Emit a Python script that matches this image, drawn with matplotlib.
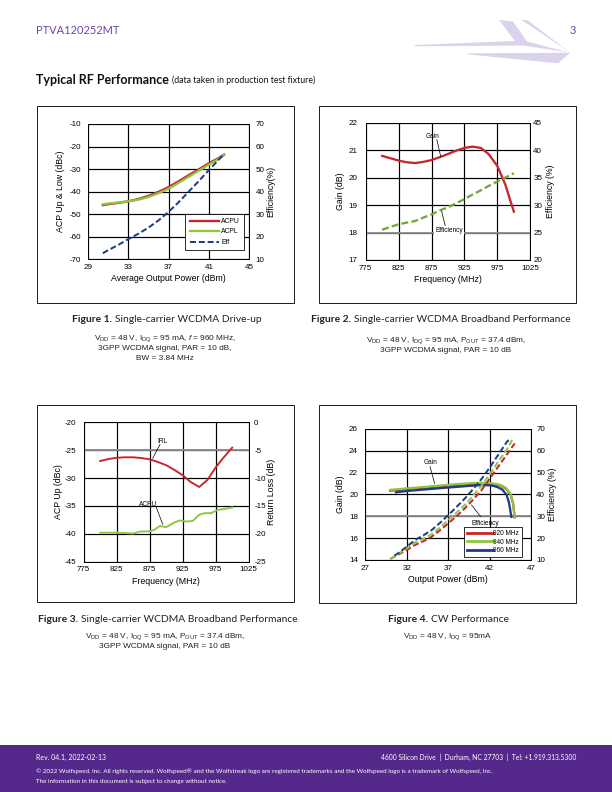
import matplotlib
matplotlib.use("Agg")
import matplotlib.pyplot as plt
from matplotlib.lines import Line2D
from matplotlib.patches import Rectangle, Polygon

plt.rcParams['font.family'] = ['Liberation Sans', 'DejaVu Sans']
plt.rcParams['mathtext.fontset'] = 'custom'
plt.rcParams['mathtext.rm'] = 'Liberation Sans'
plt.rcParams['mathtext.it'] = 'Liberation Sans:italic'
plt.rcParams['axes.unicode_minus'] = False

RED = '#C9252C'
GREEN = '#8DC63F'
DKGREEN = '#78A634'
BLUE = '#1F3C88'
PURPLE = '#55288C'
DASH = (3.0, 1.4)

# Figure 1: drive-up
pout1 = [30.5, 31, 32, 33, 34, 35, 36, 37, 38, 39, 40, 41, 42, 42.5]
acpu1 = [-46.0, -45.6, -45.0, -44.3, -43.3, -41.9, -40.1, -38.0, -35.4, -32.7, -30.1, -27.4, -25.0, -23.6]
acpl1 = [-45.6, -45.3, -44.8, -44.3, -43.6, -42.4, -40.7, -38.7, -36.1, -33.4, -30.7, -28.0, -25.4, -23.8]
eff1 = [12.7, 14.0, 16.3, 18.9, 21.3, 24.0, 27.2, 31.0, 35.3, 40.0, 44.7, 49.6, 54.3, 56.6]

# Figure 2: broadband gain / efficiency
freq2 = [800, 812, 825, 837, 850, 862, 875, 887, 900, 912, 925, 937, 950, 962, 975, 987, 1000]
gain2 = [20.79, 20.71, 20.62, 20.56, 20.53, 20.57, 20.64, 20.74, 20.86, 20.98, 21.08, 21.13, 21.08, 20.85, 20.42, 19.75, 18.76]
eff2 = [25.5, 26.0, 26.5, 26.8, 27.1, 27.7, 28.3, 29.0, 29.6, 30.3, 31.1, 31.9, 32.7, 33.5, 34.3, 35.0, 35.8]

# Figure 3: broadband ACPU / IRL
freq3 = [800, 812, 825, 837, 850, 862, 875, 887, 900, 912, 925, 937, 950, 962, 975, 987, 1000]
irl3 = [-6.94, -6.6, -6.36, -6.28, -6.28, -6.4, -6.64, -7.1, -7.7, -8.5, -9.5, -10.7, -11.6, -10.4, -8.1, -6.3, -4.55]
freq3b = [800, 825, 850, 860, 875, 882, 890, 900, 910, 920, 930, 940, 950, 958, 968, 978, 990, 1000]
acpu3 = [-39.8, -39.8, -39.95, -39.6, -39.55, -39.3, -38.6, -38.8, -38.1, -37.6, -37.8, -37.7, -36.6, -36.3, -36.3, -35.7, -35.5, -35.25]

# Figure 4: CW performance
pg920 = [30, 32, 34, 36, 38, 40, 41, 42, 43, 43.5, 44, 44.5, 44.8, 45.0]
g920 = [20.35, 20.5, 20.62, 20.75, 20.88, 20.97, 21.0, 20.98, 20.88, 20.75, 20.5, 20.0, 19.2, 17.9]
pg940 = [30, 32, 34, 36, 38, 40, 41, 42, 43, 43.5, 44, 44.5, 44.8, 45.0]
g940 = [20.42, 20.56, 20.68, 20.82, 20.95, 21.04, 21.07, 21.04, 20.93, 20.8, 20.55, 20.05, 19.25, 17.95]
pg960 = [30.7, 32, 34, 36, 38, 40, 41, 42, 42.5, 43, 43.5, 44, 44.3, 44.6]
g960 = [20.2, 20.32, 20.45, 20.58, 20.7, 20.82, 20.86, 20.84, 20.78, 20.65, 20.45, 20.0, 19.3, 17.95]
pe920 = [30, 31, 32, 33, 34, 35, 36, 37, 38, 39, 40, 41, 42, 43, 44, 45]
e920 = [10.5, 12.5, 14.6, 16.9, 18.6, 20.7, 23.6, 26.8, 30.1, 33.7, 37.7, 42.0, 47.3, 52.7, 58.0, 63.4]
pe940 = [30, 31, 32, 33, 34, 35, 36, 37, 38, 39, 40, 41, 42, 43, 44, 44.8]
e940 = [10.5, 12.8, 15.3, 18.0, 19.8, 21.8, 24.9, 28.3, 31.7, 35.3, 39.5, 44.0, 49.3, 55.0, 60.3, 65.7]
pe960 = [30.5, 31, 32, 33, 34, 35, 36, 37, 38, 39, 40, 41, 42, 43, 44, 44.5]
e960 = [12.0, 13.2, 16.1, 19.2, 21.3, 23.7, 27.0, 30.6, 34.3, 38.2, 42.5, 47.1, 52.4, 58.1, 63.8, 66.0]

W, H = 612, 792
fig = plt.figure(figsize=(W / 72, H / 72), dpi=72)
bg = fig.add_axes([0, 0, 1, 1])
bg.set_xlim(0, W)
bg.set_ylim(H, 0)
bg.axis('off')


def rect(x0, y0, x1, y1):
    return [x0 / W, 1 - y1 / H, (x1 - x0) / W, (y1 - y0) / H]


def style(ax, ax2, xlim, xticks, ylim, yticks, y2lim, y2ticks, xlabel, ylabel, y2label, pads):
    lpad, rpad, xpad, ylp, y2lp, xlp = pads
    ax.set_xlim(*xlim)
    ax.set_xticks(xticks)
    ax.set_ylim(*ylim)
    ax.set_yticks(yticks)
    ax2.set_ylim(*y2lim)
    ax2.set_yticks(y2ticks)
    ax.grid(True, color='black', lw=1.2)
    ax.set_axisbelow(True)
    for a in (ax, ax2):
        a.tick_params(length=0, labelsize=8)
        for s in a.spines.values():
            s.set_color('black')
            s.set_linewidth(1.0)
    ax.tick_params(axis='y', pad=lpad)
    ax.tick_params(axis='x', pad=xpad)
    ax2.tick_params(axis='y', pad=rpad)
    ax.set_xlabel(xlabel, fontsize=8.7, labelpad=xlp)
    ax.set_ylabel(ylabel, fontsize=8.7, labelpad=ylp)
    ax2.set_ylabel(y2label, fontsize=8.7, labelpad=y2lp)


# frames around the charts
for x0, y0, x1, y1 in [(37, 106, 294, 303), (319, 106, 576, 303), (37, 405, 294, 602), (319, 405, 576, 603)]:
    bg.add_patch(Rectangle((x0, y0), x1 - x0, y1 - y0, fill=False, ec='#222222', lw=1.0))

# ---- Figure 1
ax = fig.add_axes(rect(87.7, 124, 249.3, 259.3))
ax2 = ax.twinx()
style(ax, ax2, (29, 45), [29, 33, 37, 41, 45], (-70, -10), range(-70, -9, 10),
      (10, 70), range(10, 71, 10), 'Average Output Power (dBm)', 'ACP Up & Low (dBc)', 'Efficiency(%)',
      (6.5, 6.5, 4.5, 5, 1.5, 3.5))
ax.plot(pout1, acpu1, color=RED, lw=2.3)
ax.plot(pout1, acpl1, color=GREEN, lw=2.3)
ax2.plot(pout1, eff1, color=BLUE, lw=2.0, dashes=DASH)
hs = [Line2D([], [], color=RED, lw=2.3), Line2D([], [], color=GREEN, lw=2.3),
      Line2D([], [], color=BLUE, lw=2.0, dashes=DASH)]
lg = ax2.legend(hs, ['ACPU', 'ACPL', 'Eff'], loc='lower right', bbox_to_anchor=(0.969, 0.069),
                borderaxespad=0, fontsize=6.8, frameon=True, fancybox=False, edgecolor='black',
                framealpha=1, handlelength=4.4, handletextpad=0.3, borderpad=0.6, labelspacing=0.5)
lg.get_frame().set_linewidth(0.8)

# ---- Figure 2
ax = fig.add_axes(rect(365.7, 122.7, 530.3, 260))
ax2 = ax.twinx()
style(ax, ax2, (775, 1025), range(775, 1026, 50), (17, 22), range(17, 23),
      (20, 45), range(20, 46, 5), 'Frequency (MHz)', 'Gain (dB)', 'Efficiency (%)',
      (8, 3, 4.5, 4, 3.3, 3.5))
ax.axhline(18, color='#8a8a8a', lw=1.8, zorder=1.5)
ax.plot(freq2, gain2, color=RED, lw=2.3)
ax2.plot(freq2, eff2, color=DKGREEN, lw=2.3, dashes=DASH)
ax.text(877, 21.51, 'Gain', fontsize=6.5, ha='center', va='center')
ax.plot([883, 889], [21.39, 20.76], color='black', lw=0.7)
ax.text(901.5, 18.07, 'Efficiency', fontsize=6.5, ha='center', va='center', zorder=5,
        bbox=dict(fc='white', ec='none', pad=1.5))
ax.plot([889.9, 896.5], [18.82, 18.18], color='black', lw=0.7)

# ---- Figure 3
ax = fig.add_axes(rect(83.7, 422.3, 248.7, 561.7))
ax2 = ax.twinx()
style(ax, ax2, (775, 1025), range(775, 1026, 50), (-45, -20), range(-45, -19, 5),
      (-25, 0), range(-25, 1, 5), 'Frequency (MHz)', 'ACP Up (dBc)', 'Return Loss (dB)',
      (7.5, 5.5, 4.5, 2, 0.8, 3.5))
ax.axhline(-25, color='#8a8a8a', lw=1.8, zorder=1.5)
ax2.plot(freq3, irl3, color=RED, lw=1.9)
ax.plot(freq3b, acpu3, color=GREEN, lw=1.9)
ax.text(894.7, -23.47, 'IRL', fontsize=6.5, ha='center', va='center')
ax.plot([890.7, 879.5], [-23.95, -26.46], color='black', lw=0.7)
ax.text(872, -34.7, 'ACPU', fontsize=6.5, ha='center', va='center')
ax.plot([884.6, 894.7], [-35.13, -38.3], color='black', lw=0.7)

# ---- Figure 4
ax = fig.add_axes(rect(365.3, 429, 531.3, 560))
ax2 = ax.twinx()
style(ax, ax2, (27, 47), range(27, 48, 5), (14, 26), range(14, 27, 2),
      (10, 70), range(10, 71, 10), 'Output Power (dBm)', 'Gain (dB)', 'Efficiency (%)',
      (7.3, 5, 4.5, 4.4, 2.8, 3.5))
ax.axhline(18, color='#8a8a8a', lw=1.8, zorder=1.5)
ax.plot(pg920, g920, color=RED, lw=2.3)
ax.plot(pg940, g940, color=GREEN, lw=2.3)
ax.plot(pg960, g960, color=BLUE, lw=2.3)
ax2.plot(pe920, e920, color=RED, lw=2.0, dashes=DASH)
ax2.plot(pe940, e940, color=GREEN, lw=2.0, dashes=DASH)
ax2.plot(pe960, e960, color=BLUE, lw=2.0, dashes=DASH)
ax.text(34.8, 22.95, 'Gain', fontsize=6.5, ha='center', va='center')
ax.plot([34.8, 35.35], [22.55, 21.02], color='black', lw=0.7)
ax.text(41.4, 17.35, 'Efficiency', fontsize=6.5, ha='center', va='center')
ax.plot([40.9, 39.8], [17.97, 19.04], color='black', lw=0.7)
hs = [Line2D([], [], color=c, lw=2.8) for c in (RED, GREEN, BLUE)]
lg = ax2.legend(hs, ['920 MHz', '940 MHz', '960 MHz'], loc='lower right', bbox_to_anchor=(0.944, 0.025),
                borderaxespad=0, fontsize=6.5, frameon=True, fancybox=False, edgecolor='black',
                framealpha=1, handlelength=4.0, borderpad=0.45, labelspacing=0.2, handletextpad=0.1)
lg.get_frame().set_linewidth(0.8)

# ---- header
bg.text(36, 31, 'PTVA120252MT', fontsize=11, color='#6B46A8', family='Lato', va='center')
bg.text(576, 31, '3', fontsize=11, color='#6B46A8', family='Lato', va='center', ha='right')
lav = '#DAD3EB'
bg.add_patch(Polygon([(415, 45), (515, 41), (499, 20), (513, 21.5), (527, 41.5), (570, 52.7),
                      (523, 45.5), (415, 46.3)], closed=True, fc=lav, ec='none'))
bg.add_patch(Polygon([(521, 19.5), (528, 20.5), (570, 52.5)], closed=True, fc=lav, ec='none'))
bg.add_patch(Polygon([(468, 53.3), (570, 52.8), (558, 63.3), (468, 54.4)], closed=True, fc=lav, ec='none'))

t = bg.text(36, 80, 'Typical RF Performance', fontsize=12.5, weight='bold', family='Lato', va='center',
            color='#111111')
bg.annotate('(data taken in production test fixture)', xy=(1, 0), xycoords=t, xytext=(3, 1),
            textcoords='offset points', fontsize=8.7, family='Lato', va='bottom', color='#111111')

# ---- captions
caps = [(72, 319, 'Figure 1.', 'Single-carrier WCDMA Drive-up'),
        (311, 319, 'Figure 2.', 'Single-carrier WCDMA Broadband Performance'),
        (38, 619, 'Figure 3.', 'Single-carrier WCDMA Broadband Performance'),
        (388, 619, 'Figure 4.', 'CW Performance')]
for x, y, b, r in caps:
    t = bg.text(x, y, b, fontsize=10.2, weight='bold', family='Lato', va='center', color='#222222')
    bg.annotate(r, xy=(1, 0.5), xycoords=t, xytext=(3, 0), textcoords='offset points',
                fontsize=10.2, family='Lato', va='center', color='#222222')

conds = [(165, [339, 348, 358], [r'V$_{\rm DD}$ = 48 V, I$_{\rm DQ}$ = 95 mA, $f$ = 960 MHz,',
                                  '3GPP WCDMA signal, PAR = 10 dB,', 'BW = 3.84 MHz']),
         (446, [341, 350], [r'V$_{\rm DD}$ = 48 V, I$_{\rm DQ}$ = 95 mA, P$_{\rm OUT}$ = 37.4 dBm,',
                            '3GPP WCDMA signal, PAR = 10 dB']),
         (165, [637, 647], [r'V$_{\rm DD}$ = 48 V, I$_{\rm DQ}$ = 95 mA, P$_{\rm OUT}$ = 37.4 dBm,',
                            '3GPP WCDMA signal, PAR = 10 dB']),
         (448, [637], [r'V$_{\rm DD}$ = 48 V, I$_{\rm DQ}$ = 95mA'])]
for x, ys, lines in conds:
    for y, s in zip(ys, lines):
        bg.text(x, y, s, fontsize=8.2, ha='center', va='center', color='#222222')

# ---- footer
bg.add_patch(Rectangle((0, 745), W, H - 745, fc=PURPLE, ec='none'))
bg.text(36, 757, 'Rev. 04.1, 2022-02-13', fontsize=7, color='white', family='Lato', va='center')
bg.text(576, 757, '4600 Silicon Drive  |  Durham, NC 27703  |  Tel: +1.919.313.5300', fontsize=6.7,
        color='white', family='Lato', va='center', ha='right')
bg.text(36, 771, '\u00a9 2022 Wolfspeed, Inc. All rights reserved. Wolfspeed\u00ae and the Wolfstreak logo are registered '
        'trademarks and the Wolfspeed logo is a trademark of Wolfspeed, Inc.', fontsize=6.2, color='white',
        family='Lato', va='center')
bg.text(36, 781, 'The information in this document is subject to change without notice.', fontsize=6.2,
        color='white', family='Lato', va='center')

fig.savefig('out.png', dpi=72)
